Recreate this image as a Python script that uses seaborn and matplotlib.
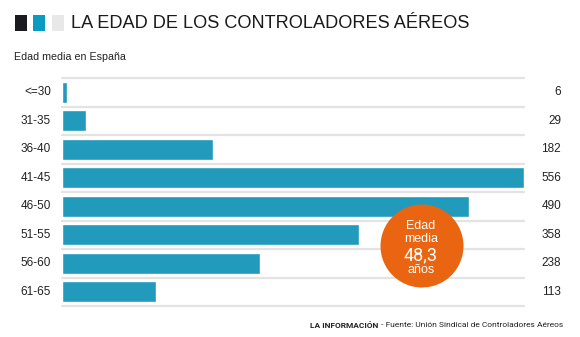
import matplotlib
matplotlib.use("Agg")
import matplotlib.pyplot as plt
import seaborn as sns
import pandas as pd
from matplotlib.patches import Ellipse, Rectangle

categories = ["<=30", "31-35", "36-40", "41-45", "46-50", "51-55", "56-60", "61-65"]
values = [6, 29, 182, 556, 490, 358, 238, 113]

title = "LA EDAD DE LOS CONTROLADORES AÉREOS"
subtitle = "Edad media en España"
source_bold = "LA INFORMACIÓN"
source_rest = " - Fuente: Unión Sindical de Controladores Aéreos"
badge = ["Edad", "media", "48,3", "años"]

df = pd.DataFrame({"edad": categories, "n": values})

sns.set_theme(style="white")
plt.rcParams["font.family"] = ["Liberation Sans", "DejaVu Sans"]
ROBOTO = ["Roboto", "DejaVu Sans"]

W, H = 580, 337
fig = plt.figure(figsize=(W / 100, H / 100), dpi=100)
fig.patch.set_facecolor("white")

def fx(px):
    return px / W

def fy(py):
    return 1 - py / H

ax = fig.add_axes([fx(62), fy(306), fx(524) - fx(62), fy(78) - fy(306)])
bar_color = "#219abb"
sns.barplot(data=df, y="edad", x="n", orient="h", color=bar_color,
            width=0.74, saturation=1, ax=ax, zorder=3)
ax.set_xlim(0, max(values))
ax.set_ylim(len(categories) - 0.5, -0.5)
for i in range(len(categories) + 1):
    ax.axhline(i - 0.5, color="#e3e3e3", lw=1.6, zorder=1, clip_on=False)
for s in ax.spines.values():
    s.set_visible(False)
ax.set_xticks([])
ax.set_yticks([])
ax.set_xlabel("")
ax.set_ylabel("")
ax.patch.set_alpha(0)

# category labels and values
for i, (c, v) in enumerate(zip(categories, values)):
    y_disp = ax.transData.transform((0, i))[1]
    yf = y_disp / H
    fig.text(fx(51), yf, c, ha="right", va="center", fontsize=8.5, color="#222222")
    fig.text(fx(561), yf, str(v), ha="right", va="center", fontsize=8.5, color="#222222")

# header squares
for x0, col in [(15, "#1b1a1f"), (33, "#0b9ac0"), (52, "#e8e8e8")]:
    fig.add_artist(Rectangle((fx(x0), fy(31)), fx(12), 16 / H, transform=fig.transFigure,
                             facecolor=col, edgecolor="none"))
fig.text(fx(71), fy(23), title, ha="left", va="center", fontsize=13.1, color="#1a1a1a")
fig.text(fx(14), fy(57), subtitle, ha="left", va="center", fontsize=7.7, color="#222222")

# badge
fig.add_artist(Ellipse((fx(422), fy(246)), 83 / W, 83 / H, transform=fig.transFigure,
                       facecolor="#e96512", edgecolor="none", zorder=5))
fig.text(fx(421), fy(226), badge[0], ha="center", va="center", fontsize=9, color="white", zorder=6)
fig.text(fx(421), fy(239), badge[1], ha="center", va="center", fontsize=9, color="white", zorder=6)
fig.text(fx(421), fy(255), badge[2], ha="center", va="center", fontsize=13, color="white",
         family=ROBOTO, fontweight="normal", zorder=6)
fig.text(fx(421), fy(270), badge[3], ha="center", va="center", fontsize=9, color="white", zorder=6)

# footer
t2 = fig.text(fx(563), fy(325), source_rest, ha="right", va="center", fontsize=6.0,
              color="#222222", family=ROBOTO)
fig.canvas.draw()
bb = t2.get_window_extent()
fig.text(bb.x0 / W, fy(325), source_bold, ha="right", va="center", fontsize=6.0,
         color="#222222", fontweight="bold", family=ROBOTO)

fig.savefig("out.png", dpi=100, facecolor="white")
